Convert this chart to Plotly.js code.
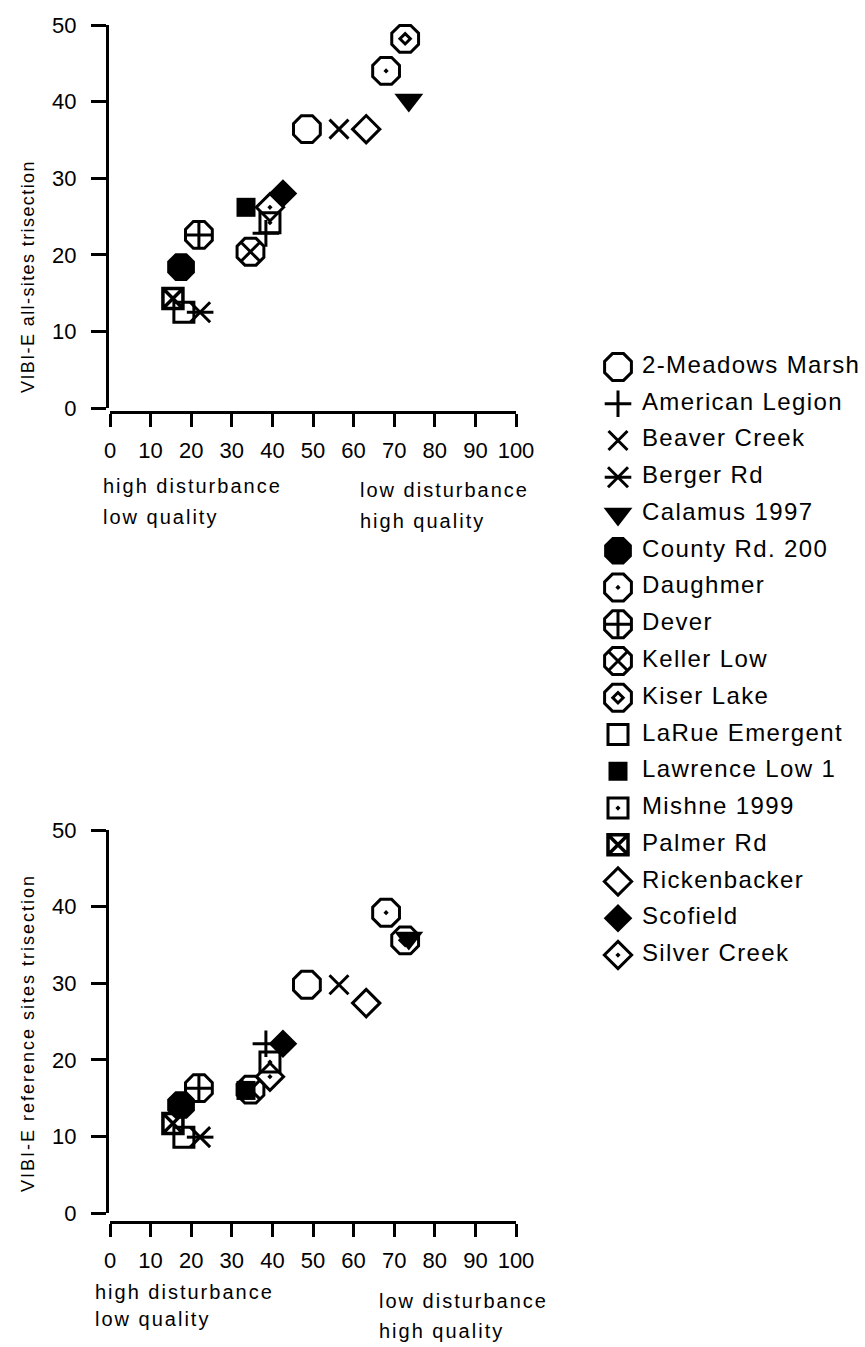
<!DOCTYPE html>
<html>
<head>
<meta charset="utf-8">
<script src="https://cdn.plot.ly/plotly-3.0.1.min.js"></script>
<style>
  html, body { margin: 0; padding: 0; background: #fff; }
  #chart { width: 865px; height: 1347px; }
</style>
</head>
<body>
<div id="chart"></div>
<script>
// Wetland sites and their scores
const SITES = [
  '2-Meadows Marsh', 'American Legion', 'Beaver Creek', 'Berger Rd',
  'Calamus 1997', 'County Rd. 200', 'Daughmer', 'Dever', 'Keller Low',
  'Kiser Lake', 'LaRue Emergent', 'Lawrence Low 1', 'Mishne 1999',
  'Palmer Rd', 'Rickenbacker', 'Scofield', 'Silver Creek'
];
// disturbance score (x) shared by both panels
const DISTURBANCE = [48.5, 38.4, 56.4, 22.2, 73.6, 17.5, 68.0, 21.9, 34.6,
                     72.7, 18.2, 33.5, 39.4, 15.5, 63.1, 42.6, 39.4];
// VIBI-E, all-sites trisection
const ALL_SITES_SCORE = [36.4, 22.8, 36.4, 12.5, 40.2, 18.4, 44.0, 22.6, 20.4,
                         48.2, 12.5, 26.2, 24.2, 14.3, 36.4, 28.0, 26.2];
// VIBI-E, reference sites trisection
const REFERENCE_SCORE = [29.8, 22.1, 29.8, 9.9, 35.9, 14.1, 39.2, 16.3, 16.1,
                         35.6, 9.9, 16.0, 19.7, 11.7, 27.4, 22.1, 17.8];

const X_TICKS = [0, 10, 20, 30, 40, 50, 60, 70, 80, 90, 100];
const Y_TICKS = [0, 10, 20, 30, 40, 50];

// marker glyphs per site (some glyphs are built from stacked symbols)
const GLYPHS = {
  '2-Meadows Marsh': [{ symbol: 'octagon-open', size: 29, lw: 3 }],
  'American Legion': [{ symbol: 'cross-thin-open', size: 19, lw: 3 }],
  'Beaver Creek':    [{ symbol: 'x-thin-open', size: 19, lw: 3 }],
  'Berger Rd':       [{ symbol: 'line-ew-open', size: 19, lw: 3 },
                      { symbol: 'x-thin-open', size: 20, lw: 3 }],
  'Calamus 1997':    [{ symbol: 'triangle-down', size: 25, lw: 0 }],
  'County Rd. 200':  [{ symbol: 'octagon', size: 30, lw: 0 }],
  'Daughmer':        [{ symbol: 'octagon-open-dot', size: 29, lw: 3 }],
  'Dever':           [{ symbol: 'octagon-open', size: 29, lw: 3 },
                      { symbol: 'cross-thin-open', size: 18, lw: 3 }],
  'Keller Low':      [{ symbol: 'octagon-open', size: 29, lw: 3 },
                      { symbol: 'x-thin-open', size: 19, lw: 3 }],
  'Kiser Lake':      [{ symbol: 'octagon-open', size: 29, lw: 3 },
                      { symbol: 'diamond-open', size: 8, lw: 3 }],
  'LaRue Emergent':  [{ symbol: 'square-open', size: 20, lw: 3 }],
  'Lawrence Low 1':  [{ symbol: 'square', size: 19, lw: 0 }],
  'Mishne 1999':     [{ symbol: 'square-open-dot', size: 20, lw: 3 }],
  'Palmer Rd':       [{ symbol: 'square-x-open', size: 20, lw: 3.5 }],
  'Rickenbacker':    [{ symbol: 'diamond-open', size: 21, lw: 3 }],
  'Scofield':        [{ symbol: 'diamond', size: 22, lw: 0 }],
  'Silver Creek':    [{ symbol: 'diamond-open-dot', size: 21, lw: 3 }]
};

const W = 865, H = 1347;
const FONT = 'Liberation Sans, Arial, Helvetica, sans-serif';
const px = v => v / W;          // pixel column -> paper x
const py = v => 1 - v / H;      // pixel row -> paper y

function spaced(text, gap) {
  return '<span style="letter-spacing:' + gap + 'px">' + text + '</span>';
}

const traces = [];
const panels = [
  { xa: 'x',  ya: 'y',  scores: ALL_SITES_SCORE },
  { xa: 'x2', ya: 'y2', scores: REFERENCE_SCORE }
];

SITES.forEach((site, i) => {
  GLYPHS[site].forEach(g => {
    const marker = {
      symbol: g.symbol, size: g.size, color: '#000',
      line: { color: '#000', width: g.lw }
    };
    panels.forEach(p => {
      traces.push({
        type: 'scatter', mode: 'markers', name: site,
        x: [DISTURBANCE[i]], y: [p.scores[i]],
        xaxis: p.xa, yaxis: p.ya,
        marker: marker, cliponaxis: false, showlegend: false,
        hoverinfo: 'name+x+y'
      });
    });
    // key column
    traces.push({
      type: 'scatter', mode: 'markers', name: site,
      x: [0], y: [site], xaxis: 'x3', yaxis: 'y3',
      marker: marker, cliponaxis: false, showlegend: false, hoverinfo: 'skip'
    });
  });
});

// key labels
traces.push({
  type: 'scatter', mode: 'text',
  x: SITES.map(() => 0.097), y: SITES,
  text: SITES.map(s => spaced(s, 1.4)),
  textposition: 'middle right',
  textfont: { family: FONT, size: 24, color: '#000' },
  xaxis: 'x3', yaxis: 'y3', cliponaxis: false, showlegend: false, hoverinfo: 'skip'
});

function xAxis(lineRow) {
  return {
    domain: [px(110), px(516)], range: [0, 100],
    anchor: 'free', position: py(lineRow),
    showline: true, linewidth: 3, linecolor: '#000',
    ticks: 'outside', ticklen: 13, tickwidth: 3, tickcolor: '#000',
    tickvals: X_TICKS, tickfont: { family: FONT, size: 22, color: '#000' },
    ticklabelstandoff: 5,
    showgrid: false, zeroline: false, fixedrange: true
  };
}
function yAxis(zeroRow, topRow) {
  return {
    domain: [py(zeroRow), py(topRow)], range: [0, 50],
    anchor: 'free', position: px(107),
    showline: true, linewidth: 3, linecolor: '#000',
    ticks: 'outside', ticklen: 15, tickwidth: 3, tickcolor: '#000',
    tickvals: Y_TICKS, tickfont: { family: FONT, size: 22, color: '#000' },
    ticklabelstandoff: 10,
    showgrid: false, zeroline: false, fixedrange: true
  };
}

function note(text, xPix, yPix, size, gap, angle) {
  return {
    text: spaced(text, gap), xref: 'paper', yref: 'paper',
    x: px(xPix), y: py(yPix),
    xanchor: angle ? 'center' : 'left', yanchor: 'middle',
    textangle: angle || 0, showarrow: false,
    font: { family: FONT, size: size, color: '#000' }
  };
}

const layout = {
  width: W, height: H,
  margin: { l: 0, r: 0, t: 0, b: 0 },
  paper_bgcolor: '#fff', plot_bgcolor: 'rgba(0,0,0,0)',
  showlegend: false,
  xaxis: xAxis(412),
  yaxis: yAxis(408, 25),
  xaxis2: xAxis(1222),
  yaxis2: yAxis(1213, 830),
  xaxis3: { domain: [px(618), 1], range: [0, 1], anchor: 'y3', visible: false, fixedrange: true },
  yaxis3: {
    domain: [py(973.4), py(348.6)], anchor: 'x3', visible: false, fixedrange: true,
    type: 'category', categoryorder: 'array', categoryarray: SITES,
    range: [SITES.length - 0.5, -0.5]
  },
  annotations: [
    note('VIBI-E all-sites trisection', 28, 277, 18, 1.4, -90),
    note('high disturbance', 101, 486, 20, 2, 0),
    note('low quality', 101, 517, 20, 2, 0),
    note('low disturbance', 358, 490, 20, 2, 0),
    note('high quality', 358, 521, 20, 2, 0),
    note('VIBI-E reference sites trisection', 28, 1033, 18, 2, -90),
    note('high disturbance', 93, 1292, 20, 2, 0),
    note('low quality', 93, 1319, 20, 2, 0),
    note('low disturbance', 377, 1301, 20, 2, 0),
    note('high quality', 377, 1331, 20, 2, 0)
  ]
};

Plotly.newPlot('chart', traces, layout, { staticPlot: true, displayModeBar: false });
</script>
</body>
</html>
